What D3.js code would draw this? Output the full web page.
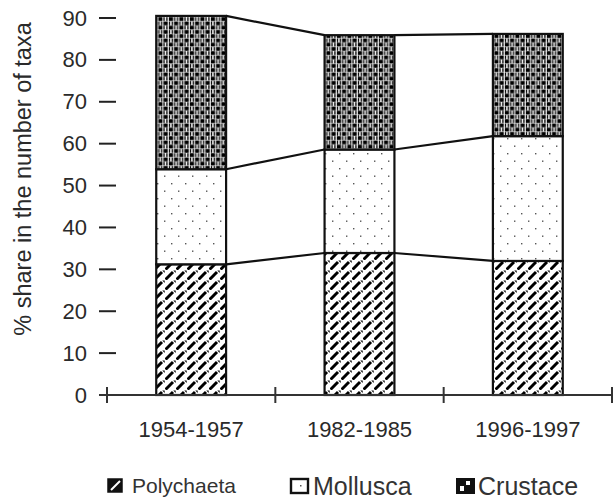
<!DOCTYPE html>
<html>
<head>
<meta charset="utf-8">
<script src="https://cdn.jsdelivr.net/npm/d3@7/dist/d3.min.js"></script>
<style>
  html, body { margin: 0; padding: 0; background: #fff; }
  svg { display: block; font-family: "Liberation Sans", Arial, Helvetica, sans-serif; }
</style>
</head>
<body>
<svg id="chart" width="614" height="499"></svg>
<script>
// ---- data ----
const periods = ["1954-1957", "1982-1985", "1996-1997"];
const seriesNames = ["Polychaeta", "Mollusca", "Crustace"];
const polychaeta = [31.2, 33.9, 32.0];
const mollusca = [22.7, 24.7, 29.8];
const crustacea = [36.6, 27.3, 24.4];
const yTicks = [0, 10, 20, 30, 40, 50, 60, 70, 80, 90];
const yTitle = "% share in the number of taxa";

const seriesValues = [polychaeta, mollusca, crustacea];
const patternIds = ["pat-poly", "pat-moll", "pat-crus"];

const svg = d3.select("#chart");
const defs = svg.append("defs");

// Polychaeta: diagonal dashes
const p1 = defs.append("pattern").attr("id", "pat-poly").attr("patternUnits", "userSpaceOnUse")
  .attr("width", 11).attr("height", 10);
p1.append("rect").attr("width", 11).attr("height", 10).attr("fill", "#fff");
p1.append("path").attr("d", "M0.5,9.5 L8,2").attr("stroke", "#000").attr("stroke-width", 3).attr("stroke-linecap", "butt");
p1.append("path").attr("d", "M8.3,0.5 L10.7,0.5 L10.7,2.9 Z").attr("fill", "#000");

// Mollusca: sparse dots
const p2 = defs.append("pattern").attr("id", "pat-moll").attr("patternUnits", "userSpaceOnUse")
  .attr("width", 14).attr("height", 15);
p2.append("rect").attr("width", 14).attr("height", 15).attr("fill", "#fff");
p2.append("rect").attr("x", 3).attr("y", 3).attr("width", 1.4).attr("height", 1.4).attr("fill", "#555");
p2.append("rect").attr("x", 10).attr("y", 10.5).attr("width", 1.4).attr("height", 1.4).attr("fill", "#555");

// Crustacea: squares and double bars, offset rows
const p3 = defs.append("pattern").attr("id", "pat-crus").attr("patternUnits", "userSpaceOnUse")
  .attr("width", 10.5).attr("height", 8.5);
p3.append("rect").attr("width", 10.5).attr("height", 8.5).attr("fill", "#fff");
p3.append("rect").attr("x", 0.8).attr("y", 0.2).attr("width", 4.2).attr("height", 3.8).attr("fill", "#000");
p3.append("rect").attr("x", 6).attr("y", 0.2).attr("width", 1.3).attr("height", 3.8).attr("fill", "#000");
p3.append("rect").attr("x", 8.8).attr("y", 0.2).attr("width", 1.3).attr("height", 3.8).attr("fill", "#000");
p3.append("rect").attr("x", 6).attr("y", 4.5).attr("width", 4.2).attr("height", 3.8).attr("fill", "#000");
p3.append("rect").attr("x", 0.8).attr("y", 4.5).attr("width", 1.3).attr("height", 3.8).attr("fill", "#000");
p3.append("rect").attr("x", 3.6).attr("y", 4.5).attr("width", 1.3).attr("height", 3.8).attr("fill", "#000");

// ---- scales ----
const x = d3.scaleBand().domain(periods).range([107, 612]).padding(0);
const y = d3.scaleLinear().domain([0, 90]).range([395, 18]);
const barFrac = 0.415;
const barW = x.bandwidth() * barFrac;
const barX = p => x(p) + (x.bandwidth() - barW) / 2;

// stacked data
const stackData = periods.map((p, i) => {
  const o = { period: p };
  seriesNames.forEach((s, k) => { o[s] = seriesValues[k][i]; });
  return o;
});
const stacked = d3.stack().keys(seriesNames)(stackData);

// ---- y axis labels & ticks (no axis line) ----
const yAxis = d3.axisLeft(y).tickValues(yTicks).tickSize(0).tickPadding(0);
const gy = svg.append("g").attr("transform", "translate(87,0)").call(yAxis);
gy.select(".domain").remove();
gy.selectAll("text").attr("font-size", 22).attr("fill", "#2a2a2a")
  .attr("font-family", "'Liberation Sans', Arial, sans-serif").attr("x", 0);

svg.append("g").selectAll("line").data(yTicks).join("line")
  .attr("x1", 99).attr("x2", 116)
  .attr("y1", d => y(d)).attr("y2", d => y(d))
  .attr("stroke", "#222").attr("stroke-width", 2);

// ---- bars ----
const gBars = svg.append("g");
stacked.forEach((layer, k) => {
  gBars.append("g").selectAll("rect").data(layer).join("rect")
    .attr("x", d => barX(d.data.period))
    .attr("y", d => y(d[1]))
    .attr("width", barW)
    .attr("height", d => y(d[0]) - y(d[1]))
    .attr("fill", `url(#${patternIds[k]})`)
    .attr("stroke", "#111").attr("stroke-width", 2.2);
});

// ---- series lines ----
const gLines = svg.append("g");
stacked.forEach(layer => {
  for (let i = 0; i < layer.length - 1; i++) {
    const a = layer[i], b = layer[i + 1];
    gLines.append("line")
      .attr("x1", barX(a.data.period) + barW).attr("y1", y(a[1]))
      .attr("x2", barX(b.data.period)).attr("y2", y(b[1]))
      .attr("stroke", "#111").attr("stroke-width", 2.2);
  }
});

// ---- x axis ----
svg.append("line").attr("x1", 99).attr("x2", 612).attr("y1", y(0)).attr("y2", y(0))
  .attr("stroke", "#333").attr("stroke-width", 2.2);
const boundaries = periods.map(p => x(p)).concat([x(periods[periods.length - 1]) + x.bandwidth()]);
svg.append("g").selectAll("line").data(boundaries).join("line")
  .attr("x1", d => d).attr("x2", d => d)
  .attr("y1", y(0) - 8).attr("y2", y(0) + 8)
  .attr("stroke", "#333").attr("stroke-width", 2);

svg.append("g").selectAll("text").data(periods).join("text")
  .attr("x", d => x(d) + x.bandwidth() / 2)
  .attr("y", 437)
  .attr("text-anchor", "middle")
  .attr("font-size", 22).attr("fill", "#2a2a2a")
  .text(d => d);

// ---- y title ----
svg.append("text")
  .attr("transform", `translate(31,179) rotate(-90)`)
  .attr("text-anchor", "middle")
  .attr("font-size", 23.5).attr("fill", "#2a2a2a")
  .text(yTitle);

// ---- legend ----
const gLeg = svg.append("g");
// Polychaeta swatch: black box with white diagonal
gLeg.append("rect").attr("x", 108).attr("y", 479).attr("width", 14).attr("height", 13)
  .attr("fill", "#111").attr("stroke", "#111").attr("stroke-width", 1.5);
gLeg.append("path").attr("d", "M111,490 L120,481").attr("stroke", "#fff").attr("stroke-width", 2);
gLeg.append("text").attr("x", 132).attr("y", 493).attr("font-size", 21).attr("fill", "#333").text(seriesNames[0]);

// Mollusca swatch: white box with black border and tiny dot
gLeg.append("rect").attr("x", 291).attr("y", 479).attr("width", 17).attr("height", 14)
  .attr("fill", "#fff").attr("stroke", "#111").attr("stroke-width", 2.4);
gLeg.append("rect").attr("x", 300).attr("y", 485).attr("width", 1.5).attr("height", 1.5).attr("fill", "#555");
gLeg.append("text").attr("x", 313).attr("y", 495).attr("font-size", 25).attr("fill", "#333").text(seriesNames[1]);

// Crustace swatch: black box with white squares
gLeg.append("rect").attr("x", 457).attr("y", 479).attr("width", 17).attr("height", 14)
  .attr("fill", "#111").attr("stroke", "#111").attr("stroke-width", 2);
gLeg.append("rect").attr("x", 460).attr("y", 486).attr("width", 4).attr("height", 5).attr("fill", "#fff");
gLeg.append("rect").attr("x", 466).attr("y", 481).attr("width", 4).attr("height", 4).attr("fill", "#fff");
gLeg.append("text").attr("x", 478).attr("y", 495).attr("font-size", 25).attr("fill", "#333").text(seriesNames[2]);
</script>
</body>
</html>
